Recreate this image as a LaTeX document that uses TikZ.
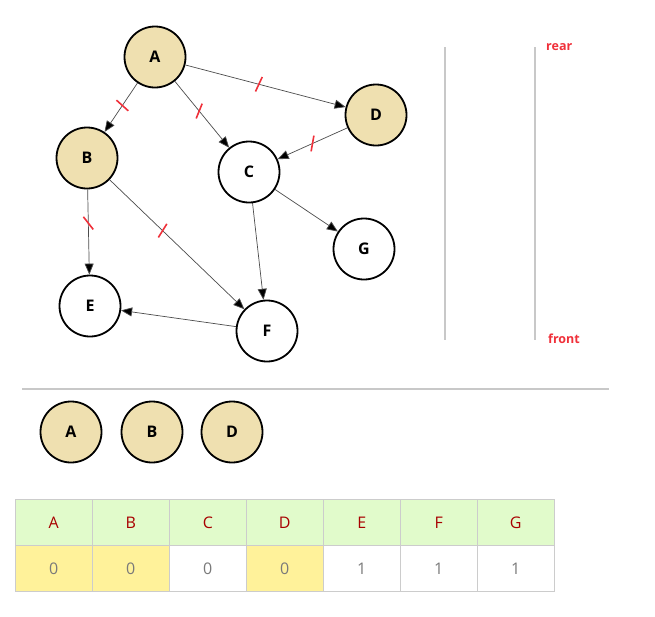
\documentclass[tikz,border=0pt]{standalone}
\usepackage{fontspec}
\setmainfont{Open Sans}
\usetikzlibrary{arrows.meta}
\definecolor{visited}{HTML}{EFE0B0}
\definecolor{hdrgreen}{HTML}{E1FBCB}
\definecolor{cellyellow}{HTML}{FFF29A}
\definecolor{gridgray}{HTML}{CCCCCC}
\definecolor{hdrtext}{HTML}{A80000}
\definecolor{celltext}{HTML}{7A7A7A}
\definecolor{tickred}{HTML}{F0303A}
\definecolor{sepgray}{HTML}{C8C8C8}
\tikzset{
  vtx/.style={circle,draw=black,line width=1.8pt,minimum size=61pt,inner sep=0pt,font=\bfseries\fontsize{16}{18}\selectfont},
  done/.style={vtx,fill=visited},
  fresh/.style={vtx,fill=white},
  link/.style={draw=black!70,line width=0.7pt,-{Triangle[length=11pt,width=9pt,fill=black]}},
  redtick/.style={draw=tickred,line width=1.6pt},
  cellbox/.style={draw=gridgray,line width=0.6pt,minimum width=77pt,minimum height=46pt,inner sep=0pt,anchor=north west,font=\fontsize{16}{18}\selectfont},
  hdr/.style={cellbox,fill=hdrgreen,text=hdrtext},
  val/.style={cellbox,text=celltext},
  sideword/.style={text=tickred,font=\bfseries\fontsize{12.5}{14}\selectfont,anchor=west,inner sep=0pt}
}
\newcommand\cutmark[4]{% from, to, pos, math angle
  \path (#1.center) -- (#2.center) coordinate[pos=#3] (t#1#2);
  \draw[redtick] ([shift={(#4:8pt)}]t#1#2) -- ([shift={(#4+180:8pt)}]t#1#2);
}
\begin{document}
\begin{tikzpicture}[x=1pt,y=-1pt]
\useasboundingbox[fill=white] (0,0) rectangle (655,616);
% graph
\node[done]  (A) at (155,57) {A};
\node[done]  (B) at (87,158) {B};
\node[fresh] (C) at (249,172) {C};
\node[done]  (D) at (376,115) {D};
\node[fresh] (E) at (90,306) {E};
\node[fresh] (F) at (267,331) {F};
\node[fresh] (G) at (364,249) {G};
\draw[link] (A) -- (B);
\draw[link] (A) -- (C);
\draw[link] (A) -- (D);
\draw[link] (D) -- (C);
\draw[link] (B) -- (E);
\draw[link] (B) -- (F);
\draw[link] (C) -- (F);
\draw[link] (C) -- (G);
\draw[link] (F) -- (E);
\cutmark{A}{B}{0.48}{138}
\cutmark{A}{C}{0.47}{68}
\cutmark{A}{D}{0.47}{65}
\cutmark{D}{C}{0.5}{80}
\cutmark{B}{E}{0.44}{128}
\cutmark{B}{F}{0.42}{58}
% queue
\coordinate (q1t) at (445,47); \coordinate (q1b) at (445,340);
\coordinate (q2t) at (535,47); \coordinate (q2b) at (535,340);
\draw[sepgray,line width=1.8pt] (q1t) -- (q1b);
\draw[sepgray,line width=1.8pt] (q2t) -- (q2b);
\node[sideword] (rear) at (546,47) {rear};
\node[sideword] (front) at (548,339) {front};
% separator
\coordinate (s1) at (22,389); \coordinate (s2) at (609,389);
\draw[sepgray,line width=1.8pt] (s1) -- (s2);
% removed list
\node[done] (rA) at (71,432) {A};
\node[done] (rB) at (152,432) {B};
\node[done] (rD) at (232,432) {D};
% table
\foreach \l [count=\i from 0] in {A,B,C,D,E,F,G} {
  \node[hdr] (h\l) at (15+77*\i,499) {\l};
}
\node[val,fill=cellyellow] (vA) at (15,545) {0};
\node[val,fill=cellyellow] (vB) at (92,545) {0};
\node[val] (vC) at (169,545) {0};
\node[val,fill=cellyellow] (vD) at (246,545) {0};
\node[val] (vE) at (323,545) {1};
\node[val] (vF) at (400,545) {1};
\node[val] (vG) at (477,545) {1};
\end{tikzpicture}
\end{document}
